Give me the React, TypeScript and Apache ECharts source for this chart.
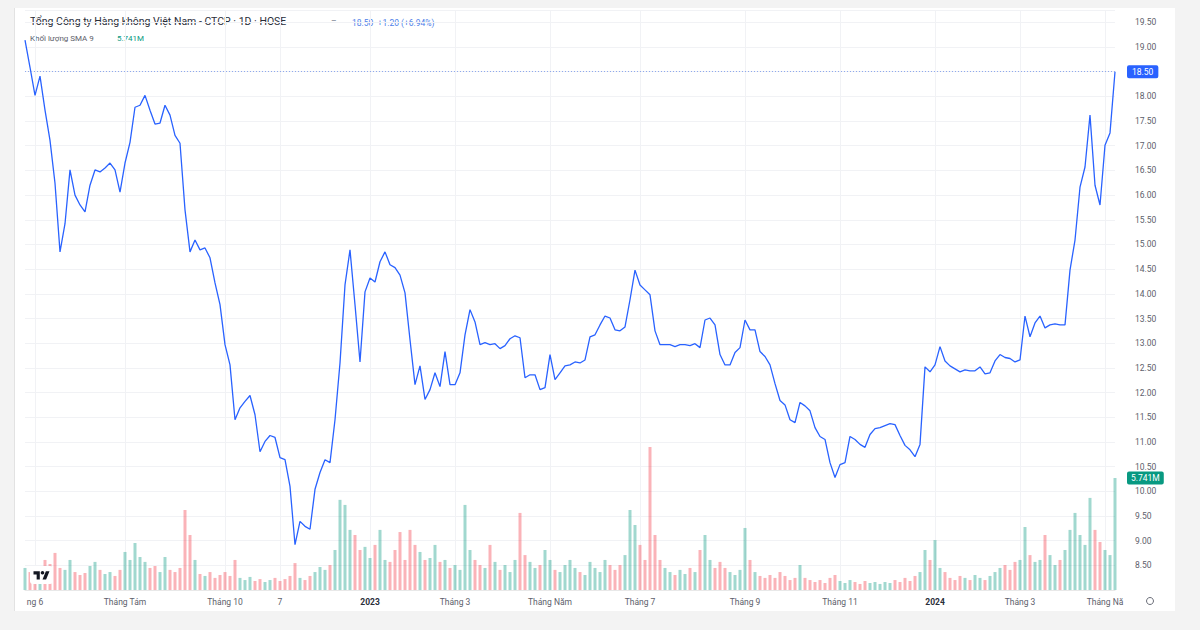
import React, { useEffect, useRef } from 'react';
import * as echarts from 'echarts';

// Close prices (nghìn đồng), sampled evenly along the time axis
const prices = [
  19.14, 18.59, 18.02, 18.41, 17.72, 17.11, 16.24, 14.85, 15.42, 16.51,
  16.0, 15.8, 15.66, 16.2, 16.51, 16.47, 16.55, 16.65, 16.51, 16.06,
  16.65, 17.07, 17.78, 17.82, 18.02, 17.72, 17.44, 17.46, 17.82, 17.62,
  17.21, 17.05, 15.7, 14.85, 15.09, 14.89, 14.93, 14.73, 14.22, 13.78,
  12.97, 12.56, 11.45, 11.69, 11.82, 11.94, 11.55, 10.8, 11.01, 11.13,
  11.09, 10.68, 10.64, 10.1, 8.92, 9.39, 9.29, 9.23, 10.04, 10.38,
  10.64, 10.58, 11.45, 12.6, 14.18, 14.89, 13.78, 12.62, 14.04, 14.32,
  14.24, 14.65, 14.85, 14.59, 14.53, 14.38, 14.02, 13.07, 12.16, 12.54,
  11.86, 12.06, 12.4, 12.12, 12.83, 12.16, 12.16, 12.4, 13.17, 13.68,
  13.43, 12.97, 13.01, 12.97, 12.99, 12.89, 12.95, 13.09, 13.15, 13.11,
  12.3, 12.36, 12.36, 12.06, 12.1, 12.77, 12.26, 12.4, 12.54, 12.56,
  12.62, 12.6, 12.66, 13.13, 13.17, 13.37, 13.55, 13.51, 13.27, 13.25,
  13.33, 13.88, 14.48, 14.18, 14.08, 13.98, 13.25, 12.97, 12.97, 12.97,
  12.93, 12.97, 12.97, 12.95, 12.99, 12.91, 13.47, 13.51, 13.37, 12.77,
  12.56, 12.56, 12.81, 12.91, 13.47, 13.27, 13.27, 12.83, 12.73, 12.56,
  12.18, 11.84, 11.75, 11.45, 11.39, 11.8, 11.73, 11.63, 11.29, 11.11,
  11.05, 10.58, 10.28, 10.54, 10.58, 11.11, 11.05, 10.95, 10.89, 11.15,
  11.27, 11.29, 11.33, 11.37, 11.35, 11.13, 10.93, 10.84, 10.7, 10.95,
  12.52, 12.42, 12.56, 12.93, 12.64, 12.54, 12.48, 12.42, 12.46, 12.44,
  12.44, 12.52, 12.38, 12.4, 12.64, 12.77, 12.71, 12.69, 12.62, 12.66,
  13.55, 13.13, 13.41, 13.55, 13.31, 13.37, 13.39, 13.37, 13.37, 14.48,
  15.09, 16.16, 16.57, 17.62, 16.2, 15.8, 17.01, 17.26, 18.5,
];

// Volume (million shares)
const volumes = [
  1.13, 0.92, 1.03, 1.23, 1.54, 1.33, 1.9, 1.13, 1.03, 1.54,
  0.92, 0.77, 0.87, 1.23, 1.44, 1.03, 0.82, 0.92, 0.72, 1.03,
  1.95, 1.54, 2.41, 1.69, 1.44, 1.13, 1.23, 0.92, 1.69, 1.03,
  0.92, 1.13, 4.1, 2.82, 1.54, 0.82, 0.72, 0.92, 0.62, 0.77,
  0.92, 0.72, 1.54, 0.62, 0.51, 0.67, 0.46, 0.56, 0.41, 0.51,
  0.62, 0.46, 0.56, 0.72, 1.38, 0.62, 0.51, 0.72, 0.92, 1.18,
  1.03, 1.28, 2.05, 4.62, 4.36, 3.08, 2.82, 2.05, 2.21, 1.64,
  2.31, 3.08, 1.54, 1.44, 2.05, 2.97, 1.54, 3.08, 2.31, 1.95,
  1.54, 1.64, 2.31, 1.44, 1.54, 1.13, 1.28, 1.03, 4.36, 2.05,
  1.54, 1.28, 1.13, 2.31, 1.44, 1.03, 1.28, 0.92, 1.54, 3.95,
  1.79, 1.44, 1.13, 1.28, 2.05, 1.54, 1.03, 0.92, 1.28, 1.54,
  1.13, 0.92, 0.77, 1.44, 1.13, 0.92, 1.54, 1.28, 1.03, 1.28,
  1.79, 4.1, 3.33, 2.31, 1.54, 7.33, 2.82, 1.54, 1.13, 0.92,
  0.77, 1.03, 0.82, 1.13, 0.92, 2.05, 2.82, 1.54, 1.13, 1.44,
  1.13, 0.92, 0.77, 1.03, 3.18, 1.54, 0.92, 0.72, 0.62, 0.77,
  0.62, 0.92, 0.72, 0.51, 0.62, 1.28, 0.62, 0.51, 0.41, 0.51,
  0.36, 0.62, 0.77, 0.46, 0.36, 0.51, 0.41, 0.31, 0.46, 0.36,
  0.41, 0.31, 0.41, 0.36, 0.51, 0.41, 0.62, 0.46, 0.72, 0.92,
  2.05, 1.54, 2.56, 1.13, 0.92, 0.62, 0.51, 0.72, 0.62, 0.51,
  0.77, 0.62, 0.51, 0.72, 0.92, 1.13, 1.28, 1.03, 1.44, 1.54,
  3.23, 1.79, 1.44, 1.54, 2.82, 1.79, 1.28, 1.54, 2.05, 3.08,
  3.95, 2.82, 2.31, 4.72, 3.08, 2.46, 2.05, 1.79, 5.741,
];

const tickIndex = [2, 20, 40, 51, 69, 86, 105, 123, 144, 163, 182, 199, 216];
const tickText = ['ng 6', 'Tháng Tám', 'Tháng 10', '7', '2023', 'Tháng 3', 'Tháng Năm', 'Tháng 7', 'Tháng 9', 'Tháng 11', '2024', 'Tháng 3', 'Tháng Nă'];
const yearTicks = ['2023', '2024'];

const priceMin = 8;
const priceMax = 19.75;
const priceStep = 0.5;
const priceLabelLow = 8.5;
const priceLabelHigh = 19.5;
const volumeMax = 10.25;

const lastPrice = 18.5;
const lastVolume = 5.741;
const titleText = 'Tổng Công ty Hàng không Việt Nam - CTCP · 1D · HOSE';
const quoteText = '18.50  +1.20 (+6.94%)';
const volumeTitle = 'Khối lượng SMA 9';
const volumeValueText = '5.741M';

const TV_LOGO = 'M14 22H7V11H0V4h14v18zM28 22h-8l7.5-18h8L28 22z';
echarts.graphic.registerShape('tvlogo', echarts.graphic.extendPath(TV_LOGO, {}));

const FONT = 'Roboto, "Noto Sans", "DejaVu Sans", sans-serif';

export default function App() {
  const ref = useRef<HTMLDivElement>(null);

  useEffect(() => {
    document.body.style.margin = '0';
    if (!ref.current) return;
    const chart = echarts.init(ref.current, undefined, { renderer: 'svg' });
    const categories = prices.map((_, i) => String(i));
    const up = 'rgba(8,153,129,0.38)';
    const down = 'rgba(242,54,69,0.38)';
    const barData = volumes.map((v, i) => ({
      value: v,
      itemStyle: { color: i === 0 || prices[i] >= prices[i - 1] ? up : down },
    }));
    const isTick = (i: number) => tickIndex.includes(i);

    chart.setOption({
      animation: false,
      backgroundColor: 'transparent',
      textStyle: { fontFamily: FONT },
      grid: [
        { left: 25, right: 85, top: 10, bottom: 40 },
        { left: 25, right: 85, top: 390, bottom: 40 },
      ],
      xAxis: [
        {
          type: 'category',
          gridIndex: 0,
          data: categories,
          boundaryGap: false,
          axisLine: { show: false },
          axisTick: { show: false },
          axisLabel: { show: false },
          splitLine: { show: true, interval: (i: number) => isTick(i), lineStyle: { color: '#f1f2f5', width: 1 } },
        },
        {
          type: 'category',
          gridIndex: 1,
          data: categories,
          boundaryGap: false,
          axisLine: { show: true, lineStyle: { color: '#e8e8e8' } },
          axisTick: { show: false },
          splitLine: { show: false },
          axisLabel: {
            interval: (i: number) => isTick(i),
            margin: 7,
            fontSize: 8.5,
            color: '#5d606b',
            formatter: (_v: string, i: number) => {
              const k = tickIndex.indexOf(i);
              if (k < 0) return '';
              const t = tickText[k];
              return yearTicks.includes(t) ? '{y|' + t + '}' : t;
            },
            rich: { y: { fontWeight: 'bold', color: '#2a2e39', fontSize: 8.5 } },
          },
        },
      ],
      yAxis: [
        {
          type: 'value',
          gridIndex: 0,
          position: 'right',
          min: priceMin,
          max: priceMax,
          interval: priceStep,
          axisLine: { show: false },
          axisTick: { show: false },
          splitLine: { lineStyle: { color: '#f1f2f5' } },
          axisLabel: {
            margin: 20,
            fontSize: 8.5,
            color: '#5d606b',
            formatter: (v: number) => {
              if (Math.abs(v - lastPrice) < 1e-6) return '';
              if (v < priceLabelLow - 1e-6 || v > priceLabelHigh + 1e-6) return '';
              return v.toFixed(2);
            },
          },
        },
        { type: 'value', gridIndex: 1, min: 0, max: volumeMax, show: false },
      ],
      series: [
        {
          type: 'bar',
          xAxisIndex: 1,
          yAxisIndex: 1,
          data: barData,
          barWidth: 3,
          z: 1,
          markLine: {
            silent: true,
            symbol: 'none',
            data: [{ yAxis: lastVolume }],
            lineStyle: { color: 'rgba(0,0,0,0)', width: 1, type: 'solid' },
            label: {
              show: true,
              position: 'end',
              distance: 12,
              formatter: volumeValueText,
              backgroundColor: '#089981',
              color: '#ffffff',
              padding: [2, 4],
              borderRadius: 2,
              fontSize: 8.5,
            },
          },
        },
        {
          type: 'line',
          xAxisIndex: 0,
          yAxisIndex: 0,
          data: prices,
          showSymbol: false,
          z: 3,
          lineStyle: { color: '#2962ff', width: 1.3 },
          markLine: {
            silent: true,
            symbol: 'none',
            data: [{ yAxis: lastPrice }],
            lineStyle: { color: '#8fa9ee', type: [1, 2], width: 1 },
            label: {
              position: 'end',
              distance: 12,
              formatter: lastPrice.toFixed(2),
              backgroundColor: '#2962ff',
              color: '#ffffff',
              padding: [2, 5],
              borderRadius: 2,
              fontSize: 8.5,
            },
          },
        },
      ],
      graphic: [
        { type: 'text', left: 30, top: 16, style: { text: titleText, fontSize: 10.5, fill: '#2a2e39', fontFamily: FONT } },
        { type: 'text', left: 331, top: 16, style: { text: '=', fontSize: 10, fill: '#9aa0ab', fontFamily: FONT } },
        { type: 'text', left: 352, top: 18, style: { text: quoteText, fontSize: 8.5, fill: '#4d7ee8', fontFamily: FONT } },
        { type: 'text', left: 30, top: 34, style: { text: volumeTitle, fontSize: 8, fill: '#5d606b', fontFamily: FONT } },
        { type: 'text', left: 117, top: 34, style: { text: volumeValueText, fontSize: 8, fill: '#089981', fontFamily: FONT } },
        { type: 'rect', left: 30, top: 566, shape: { width: 23, height: 18, r: 3 }, style: { fill: '#ffffff' }, z: 10 },
        { type: 'tvlogo', x: 33.5, y: 569.5, scaleX: 0.45, scaleY: 0.45, style: { fill: '#131722' }, z: 11 },
        { type: 'circle', shape: { cx: 42.5, cy: 572.7, r: 1.8 }, style: { fill: '#131722' }, z: 11 },
        { type: 'circle', shape: { cx: 1150, cy: 601, r: 3.5 }, style: { fill: 'none', stroke: '#6a6d78', lineWidth: 1 }, z: 11 },
      ],
    });
    return () => chart.dispose();
  }, []);

  return (
    <div style={{ position: 'relative', width: 1200, height: 630, background: '#f3f3f3', overflow: 'hidden' }}>
      <div style={{ position: 'absolute', left: 14, top: 8, width: 1160, height: 603, background: '#ffffff', borderLeft: '1px solid #e2e2e2' }} />
      <div ref={ref} style={{ position: 'absolute', left: 0, top: 0, width: 1200, height: 630 }} />
    </div>
  );
}
